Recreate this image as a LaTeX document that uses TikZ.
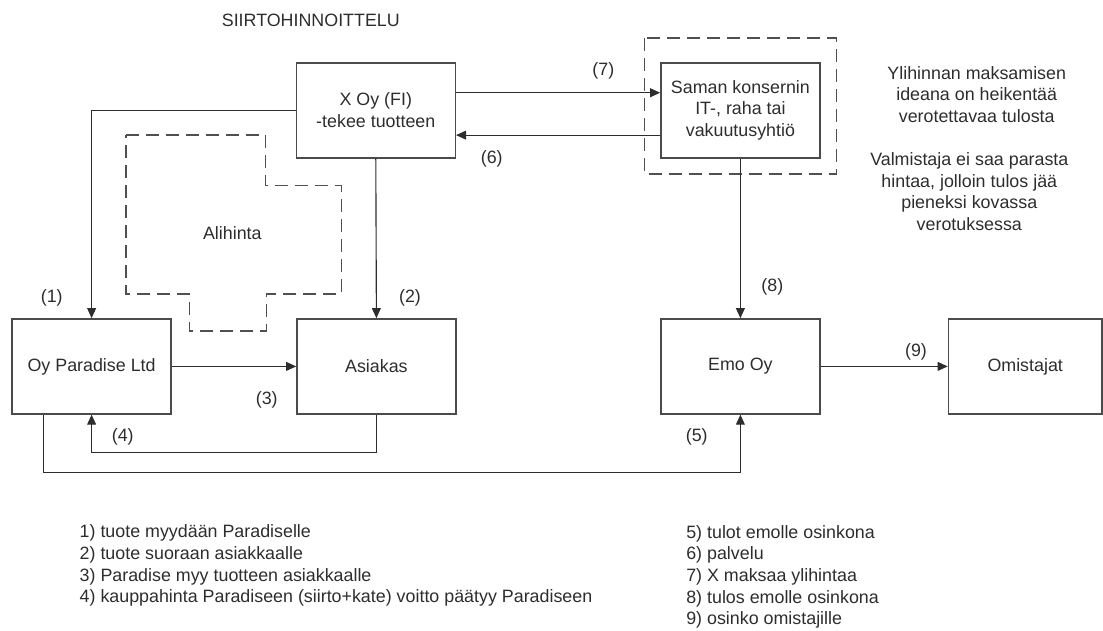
\documentclass[tikz,border=0pt]{standalone}
\usepackage{fontspec}
\setmainfont{Liberation Sans}
\usepackage{tikz}
\usepackage{xcolor}
\usetikzlibrary{arrows.meta, positioning, calc}
\definecolor{cLine}{RGB}{45,45,45}
\definecolor{cBox}{RGB}{75,75,75}
\definecolor{cText}{RGB}{45,45,45}
\definecolor{cDash}{RGB}{80,80,80}
\tikzset{
	blk/.style     ={rectangle, draw=cBox, line width=1pt, minimum width=3.975cm, minimum height=2.375cm, align=center, text=cText},
	sig/.style     ={-{Triangle[length=2.5mm, width=2.2mm]}, line width=0.8pt, draw=cLine},
	lbl/.style     ={text=cText, inner sep=1pt},
	dashbox/.style ={draw=cDash, line width=0.9pt, dash pattern=on 3.3mm off 1.7mm},
}

\begin{document}
\begin{tikzpicture}[font=\fontsize{12.7}{15.4}\selectfont]
	\useasboundingbox (0,0) rectangle (27.575,-15.75);
	\node[lbl] (title) at (7.77,-0.518) {SIIRTOHINNOITTELU};
	% boxes
	\node[blk] (xoy) at (9.395,-2.758) {X Oy (FI)\\-tekee tuotteen};
	\node[blk] (saman) at (18.51,-2.758) {Saman konsernin\\IT-, raha tai\\vakuutusyhtiö};
	\node[blk] (paradise) at (2.29,-9.16) {Oy Paradise Ltd};
	\node[blk] (asiakas) at (9.41,-9.16) {Asiakas};
	\node[blk] (emo) at (18.51,-9.16) {Emo Oy};
	\node[blk, minimum width=3.84cm] (omistajat) at (25.63,-9.16) {Omistajat};
	\draw[dashbox] ($(saman.north west)+(-0.39,0.6)$) rectangle ($(saman.south east)+(0.39,-0.39)$);
	% alihinta area
	\draw[dashbox] (3.15,-3.375) -- (6.643,-3.375) -- (6.643,-4.643) -- (8.543,-4.643) -- (8.543,-7.35)
		-- (6.66,-7.35) -- (6.66,-8.275) -- (4.733,-8.275) -- (4.733,-7.35) -- (3.15,-7.35) -- cycle;
	\node[lbl] (alihinta) at (5.808,-5.818) {Alihinta};
	% flows
	\draw[sig] (xoy.west) -| (paradise.north);
	\draw[sig] (xoy.south) -- (asiakas.north);
	\draw[sig] (paradise.east) -- (asiakas.west);
	\draw[sig] (asiakas.south) -- ++(0,-0.94) -| (paradise.south);
	\draw[sig] ([xshift=-1.21cm]paradise.south) -- ++(0,-1.44) -| (emo.south);
	\draw[sig] ([yshift=-0.62cm]saman.west) -- ([yshift=-0.62cm]xoy.east);
	\draw[sig] ([yshift=0.44cm]xoy.east) -- ([yshift=0.44cm]saman.west);
	\draw[sig] (saman.south) -- (emo.north);
	\draw[sig] (emo.east) -- (omistajat.west);
	\foreach \x/\y/\n in {1.293/-7.458/1, 10.25/-7.458/2, 6.668/-10.0/3, 3.068/-10.918/4, 17.418/-10.918/5,
			12.293/-3.983/6, 15.083/-1.775/7, 19.308/-7.168/8, 22.9/-8.793/9} {
		\node[lbl] (n\n) at (\x,\y) {(\n)};
	}
	% notes
	\node[lbl, align=center] (note1) at (24.418,-2.358) {Ylihinnan maksamisen\\ideana on heikentää\\verotettavaa tulosta};
	\node[lbl, align=center] (note2) at (24.233,-4.793) {Valmistaja ei saa parasta\\hintaa, jolloin tulos jää\\pieneksi kovassa\\verotuksessa};
	\node[lbl, align=left, anchor=west] (legL) at (1.95,-14.145) {1) tuote myydään Paradiselle\\2) tuote suoraan asiakkaalle\\3) Paradise myy tuotteen asiakkaalle\\4) kauppahinta Paradiseen (siirto+kate) voitto päätyy Paradiseen};
	\node[lbl, align=left, anchor=west] (legR) at (17.115,-14.418) {5) tulot emolle osinkona\\6) palvelu\\7) X maksaa ylihintaa\\8) tulos emolle osinkona\\9) osinko omistajille};
\end{tikzpicture}
\end{document}
